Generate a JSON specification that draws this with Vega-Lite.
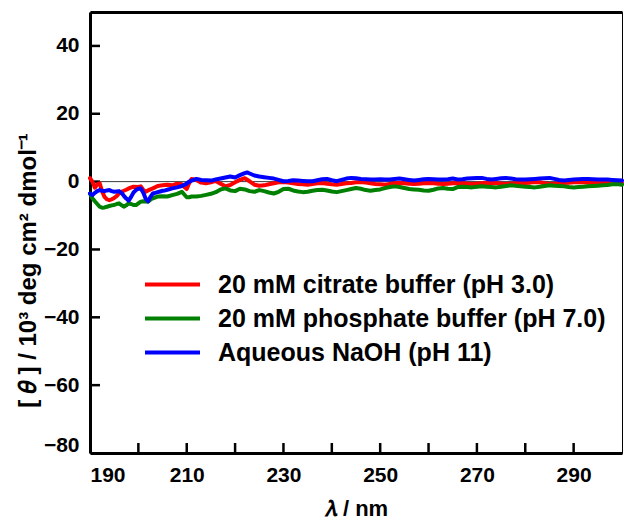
{
  "$schema": "https://vega.github.io/schema/vega-lite/v6.json",
  "width": 532,
  "height": 441,
  "autosize": "none",
  "padding": {"left": 90, "top": 12, "right": 2, "bottom": 67},
  "background": "white",
  "config": {
    "view": {"stroke": "black", "strokeWidth": 1},
    "axis": {
      "grid": false,
      "labelFont": "Liberation Sans",
      "labelFontWeight": "bold",
      "labelFontSize": 21,
      "labelColor": "black",
      "titleFont": "Liberation Sans",
      "titleFontWeight": "bold",
      "titleColor": "black",
      "domainColor": "black",
      "domainWidth": 3,
      "tickColor": "black",
      "tickWidth": 2
    }
  },
  "datasets": {
    "cd": [
      {"s":"a","w":190,"v":1.0},{"s":"a","w":190.5,"v":0},{"s":"a","w":191,"v":-1.8},{"s":"a","w":191.5,"v":-0.8},{"s":"a","w":192,"v":-0.5},{"s":"a","w":192.5,"v":-2.8},{"s":"a","w":193,"v":-4.5},{"s":"a","w":193.5,"v":-5.2},{"s":"a","w":194,"v":-5.5},{"s":"a","w":194.5,"v":-5.2},{"s":"a","w":195,"v":-4.8},{"s":"a","w":195.5,"v":-4.3},{"s":"a","w":196,"v":-3.5},{"s":"a","w":196.5,"v":-3.0},{"s":"a","w":197,"v":-2.7},{"s":"a","w":197.5,"v":-2.4},{"s":"a","w":198,"v":-2.0},{"s":"a","w":199,"v":-1.5},{"s":"a","w":200,"v":-1.6},{"s":"a","w":200.5,"v":-1.4},{"s":"a","w":201,"v":-2.4},{"s":"a","w":201.5,"v":-3.0},{"s":"a","w":202,"v":-2.6},{"s":"a","w":203,"v":-2.0},{"s":"a","w":204,"v":-1.3},{"s":"a","w":205,"v":-1.1},{"s":"a","w":206,"v":-0.9},{"s":"a","w":207,"v":-1.1},{"s":"a","w":208,"v":-0.6},{"s":"a","w":209,"v":-0.8},{"s":"a","w":209.5,"v":-1.6},{"s":"a","w":210,"v":-2.2},{"s":"a","w":210.5,"v":-0.5},{"s":"a","w":211,"v":0.8},{"s":"a","w":212,"v":0.5},{"s":"a","w":213,"v":-0.3},{"s":"a","w":214,"v":-0.5},{"s":"a","w":215,"v":-0.2},{"s":"a","w":216,"v":0.2},{"s":"a","w":217,"v":-0.6},{"s":"a","w":218,"v":-1.4},{"s":"a","w":219,"v":-1.0},{"s":"a","w":220,"v":-0.2},{"s":"a","w":221,"v":0.5},{"s":"a","w":222,"v":1.0},{"s":"a","w":223,"v":0.1},{"s":"a","w":224,"v":-0.9},{"s":"a","w":225,"v":-1.2},{"s":"a","w":226,"v":-1.1},{"s":"a","w":227,"v":-0.8},{"s":"a","w":228,"v":-0.5},{"s":"a","w":229,"v":-0.2},{"s":"a","w":230,"v":-0.1},{"s":"a","w":231,"v":-0.3},{"s":"a","w":232,"v":-0.5},{"s":"a","w":233,"v":-0.7},{"s":"a","w":234,"v":-0.8},{"s":"a","w":235,"v":-0.9},{"s":"a","w":236,"v":-0.7},{"s":"a","w":237,"v":-0.5},{"s":"a","w":238,"v":-0.4},{"s":"a","w":239,"v":-0.6},{"s":"a","w":240,"v":-0.8},{"s":"a","w":241,"v":-0.9},{"s":"a","w":242,"v":-0.7},{"s":"a","w":243,"v":-0.5},{"s":"a","w":244,"v":-0.4},{"s":"a","w":245,"v":-0.2},{"s":"a","w":246,"v":-0.1},{"s":"a","w":247,"v":-0.3},{"s":"a","w":248,"v":-0.5},{"s":"a","w":249,"v":-0.7},{"s":"a","w":250,"v":-0.8},{"s":"a","w":251,"v":-0.9},{"s":"a","w":252,"v":-0.7},{"s":"a","w":253,"v":-0.5},{"s":"a","w":254,"v":-0.4},{"s":"a","w":255,"v":-0.5},{"s":"a","w":256,"v":-0.6},{"s":"a","w":257,"v":-0.7},{"s":"a","w":258,"v":-0.6},{"s":"a","w":259,"v":-0.5},{"s":"a","w":260,"v":-0.4},{"s":"a","w":261,"v":-0.5},{"s":"a","w":262,"v":-0.6},{"s":"a","w":263,"v":-0.7},{"s":"a","w":264,"v":-0.6},{"s":"a","w":265,"v":-0.5},{"s":"a","w":266,"v":-0.4},{"s":"a","w":267,"v":-0.5},{"s":"a","w":268,"v":-0.6},{"s":"a","w":269,"v":-0.7},{"s":"a","w":270,"v":-0.6},{"s":"a","w":271,"v":-0.5},{"s":"a","w":272,"v":-0.4},{"s":"a","w":273,"v":-0.4},{"s":"a","w":274,"v":-0.5},{"s":"a","w":275,"v":-0.6},{"s":"a","w":276,"v":-0.7},{"s":"a","w":277,"v":-0.6},{"s":"a","w":278,"v":-0.5},{"s":"a","w":279,"v":-0.4},{"s":"a","w":280,"v":-0.4},{"s":"a","w":281,"v":-0.3},{"s":"a","w":282,"v":-0.1},{"s":"a","w":283,"v":-0.2},{"s":"a","w":284,"v":-0.5},{"s":"a","w":285,"v":-0.7},{"s":"a","w":286,"v":-0.6},{"s":"a","w":287,"v":-0.5},{"s":"a","w":288,"v":-0.4},{"s":"a","w":289,"v":-0.3},{"s":"a","w":290,"v":-0.2},{"s":"a","w":291,"v":-0.1},{"s":"a","w":292,"v":-0.2},{"s":"a","w":293,"v":-0.3},{"s":"a","w":294,"v":-0.4},{"s":"a","w":295,"v":-0.4},{"s":"a","w":296,"v":-0.3},{"s":"a","w":297,"v":-0.2},{"s":"a","w":298,"v":-0.1},{"s":"a","w":299,"v":-0.3},{"s":"a","w":300,"v":-0.4},
      {"s":"b","w":190,"v":-3.5},{"s":"b","w":190.5,"v":-4.9},{"s":"b","w":191,"v":-5.8},{"s":"b","w":191.5,"v":-6.6},{"s":"b","w":192,"v":-7.4},{"s":"b","w":192.5,"v":-7.7},{"s":"b","w":193,"v":-7.6},{"s":"b","w":193.5,"v":-7.4},{"s":"b","w":194,"v":-7.2},{"s":"b","w":194.5,"v":-7.0},{"s":"b","w":195,"v":-6.9},{"s":"b","w":195.5,"v":-6.6},{"s":"b","w":196,"v":-6.4},{"s":"b","w":196.5,"v":-6.9},{"s":"b","w":197,"v":-7.4},{"s":"b","w":197.5,"v":-7.0},{"s":"b","w":198,"v":-6.4},{"s":"b","w":198.5,"v":-6.6},{"s":"b","w":199,"v":-6.9},{"s":"b","w":199.5,"v":-6.9},{"s":"b","w":200,"v":-6.4},{"s":"b","w":200.5,"v":-5.9},{"s":"b","w":201,"v":-5.8},{"s":"b","w":202,"v":-5.9},{"s":"b","w":202.5,"v":-5.3},{"s":"b","w":203,"v":-4.9},{"s":"b","w":204,"v":-4.4},{"s":"b","w":205,"v":-4.3},{"s":"b","w":206,"v":-4.4},{"s":"b","w":207,"v":-4.0},{"s":"b","w":208,"v":-3.6},{"s":"b","w":208.5,"v":-3.3},{"s":"b","w":209,"v":-3.0},{"s":"b","w":209.5,"v":-3.8},{"s":"b","w":210,"v":-4.6},{"s":"b","w":210.5,"v":-4.6},{"s":"b","w":211,"v":-4.4},{"s":"b","w":212,"v":-4.4},{"s":"b","w":213,"v":-4.2},{"s":"b","w":214,"v":-3.9},{"s":"b","w":215,"v":-3.6},{"s":"b","w":216,"v":-3.1},{"s":"b","w":217,"v":-2.3},{"s":"b","w":218,"v":-2.0},{"s":"b","w":219,"v":-2.6},{"s":"b","w":220,"v":-2.8},{"s":"b","w":221,"v":-2.1},{"s":"b","w":222,"v":-2.3},{"s":"b","w":223,"v":-2.8},{"s":"b","w":224,"v":-3.0},{"s":"b","w":225,"v":-2.5},{"s":"b","w":226,"v":-2.8},{"s":"b","w":227,"v":-3.2},{"s":"b","w":228,"v":-3.5},{"s":"b","w":229,"v":-3.0},{"s":"b","w":230,"v":-2.2},{"s":"b","w":231,"v":-2.1},{"s":"b","w":232,"v":-2.6},{"s":"b","w":233,"v":-2.9},{"s":"b","w":234,"v":-3.1},{"s":"b","w":235,"v":-3.0},{"s":"b","w":236,"v":-2.7},{"s":"b","w":237,"v":-2.5},{"s":"b","w":238,"v":-2.4},{"s":"b","w":239,"v":-2.6},{"s":"b","w":240,"v":-2.9},{"s":"b","w":241,"v":-3.1},{"s":"b","w":242,"v":-2.8},{"s":"b","w":243,"v":-2.5},{"s":"b","w":244,"v":-2.2},{"s":"b","w":245,"v":-1.9},{"s":"b","w":246,"v":-2.1},{"s":"b","w":247,"v":-2.5},{"s":"b","w":248,"v":-2.7},{"s":"b","w":249,"v":-2.5},{"s":"b","w":250,"v":-2.3},{"s":"b","w":251,"v":-1.9},{"s":"b","w":252,"v":-1.6},{"s":"b","w":253,"v":-1.4},{"s":"b","w":254,"v":-1.6},{"s":"b","w":255,"v":-1.9},{"s":"b","w":256,"v":-2.2},{"s":"b","w":257,"v":-2.3},{"s":"b","w":258,"v":-2.4},{"s":"b","w":259,"v":-2.6},{"s":"b","w":260,"v":-2.7},{"s":"b","w":261,"v":-2.4},{"s":"b","w":262,"v":-2.0},{"s":"b","w":263,"v":-1.9},{"s":"b","w":264,"v":-2.1},{"s":"b","w":265,"v":-2.2},{"s":"b","w":266,"v":-1.6},{"s":"b","w":267,"v":-1.5},{"s":"b","w":268,"v":-1.6},{"s":"b","w":269,"v":-1.7},{"s":"b","w":270,"v":-1.5},{"s":"b","w":271,"v":-1.4},{"s":"b","w":272,"v":-1.5},{"s":"b","w":273,"v":-1.6},{"s":"b","w":274,"v":-1.7},{"s":"b","w":275,"v":-1.5},{"s":"b","w":276,"v":-1.3},{"s":"b","w":277,"v":-1.1},{"s":"b","w":278,"v":-1.2},{"s":"b","w":279,"v":-1.4},{"s":"b","w":280,"v":-1.5},{"s":"b","w":281,"v":-1.6},{"s":"b","w":282,"v":-1.7},{"s":"b","w":283,"v":-1.5},{"s":"b","w":284,"v":-1.3},{"s":"b","w":285,"v":-1.1},{"s":"b","w":286,"v":-1.2},{"s":"b","w":287,"v":-1.3},{"s":"b","w":288,"v":-1.4},{"s":"b","w":289,"v":-1.6},{"s":"b","w":290,"v":-1.7},{"s":"b","w":291,"v":-1.6},{"s":"b","w":292,"v":-1.5},{"s":"b","w":293,"v":-1.4},{"s":"b","w":294,"v":-1.3},{"s":"b","w":295,"v":-1.2},{"s":"b","w":296,"v":-1.1},{"s":"b","w":297,"v":-1.0},{"s":"b","w":298,"v":-0.8},{"s":"b","w":299,"v":-0.7},{"s":"b","w":300,"v":-0.9},
      {"s":"c","w":190,"v":-3.5},{"s":"c","w":190.5,"v":-4.0},{"s":"c","w":191,"v":-3.3},{"s":"c","w":191.5,"v":-2.8},{"s":"c","w":192,"v":-2.5},{"s":"c","w":192.5,"v":-2.7},{"s":"c","w":193,"v":-2.8},{"s":"c","w":193.5,"v":-2.6},{"s":"c","w":194,"v":-2.5},{"s":"c","w":194.5,"v":-2.8},{"s":"c","w":195,"v":-3.0},{"s":"c","w":195.5,"v":-2.9},{"s":"c","w":196,"v":-2.8},{"s":"c","w":196.5,"v":-3.3},{"s":"c","w":197,"v":-4.2},{"s":"c","w":197.5,"v":-5.0},{"s":"c","w":198,"v":-5.6},{"s":"c","w":198.5,"v":-4.5},{"s":"c","w":199,"v":-3.2},{"s":"c","w":199.5,"v":-2.5},{"s":"c","w":200,"v":-2.1},{"s":"c","w":200.5,"v":-2.0},{"s":"c","w":201,"v":-3.2},{"s":"c","w":201.5,"v":-5.0},{"s":"c","w":202,"v":-5.8},{"s":"c","w":202.5,"v":-4.5},{"s":"c","w":203,"v":-3.5},{"s":"c","w":203.5,"v":-3.3},{"s":"c","w":204,"v":-3.1},{"s":"c","w":204.5,"v":-2.9},{"s":"c","w":205,"v":-2.7},{"s":"c","w":205.5,"v":-2.6},{"s":"c","w":206,"v":-2.4},{"s":"c","w":207,"v":-2.0},{"s":"c","w":208,"v":-1.7},{"s":"c","w":209,"v":-1.3},{"s":"c","w":210,"v":-0.6},{"s":"c","w":210.5,"v":0},{"s":"c","w":211,"v":0.3},{"s":"c","w":212,"v":0.8},{"s":"c","w":213,"v":0.5},{"s":"c","w":214,"v":0.4},{"s":"c","w":215,"v":0.3},{"s":"c","w":216,"v":0.6},{"s":"c","w":217,"v":0.9},{"s":"c","w":218,"v":1.2},{"s":"c","w":219,"v":1.5},{"s":"c","w":220,"v":1.2},{"s":"c","w":221,"v":1.9},{"s":"c","w":222,"v":2.5},{"s":"c","w":222.5,"v":2.7},{"s":"c","w":223,"v":2.4},{"s":"c","w":224,"v":1.8},{"s":"c","w":225,"v":1.5},{"s":"c","w":226,"v":1.3},{"s":"c","w":227,"v":1.1},{"s":"c","w":228,"v":0.9},{"s":"c","w":229,"v":0.5},{"s":"c","w":230,"v":0.1},{"s":"c","w":231,"v":0.2},{"s":"c","w":232,"v":0.4},{"s":"c","w":233,"v":0.3},{"s":"c","w":234,"v":0.2},{"s":"c","w":235,"v":0.1},{"s":"c","w":236,"v":0.1},{"s":"c","w":237,"v":0.4},{"s":"c","w":238,"v":0.7},{"s":"c","w":239,"v":0.8},{"s":"c","w":240,"v":0.4},{"s":"c","w":241,"v":0.1},{"s":"c","w":242,"v":0.5},{"s":"c","w":243,"v":0.9},{"s":"c","w":244,"v":1.1},{"s":"c","w":245,"v":1.0},{"s":"c","w":246,"v":0.8},{"s":"c","w":247,"v":0.7},{"s":"c","w":248,"v":0.6},{"s":"c","w":249,"v":0.6},{"s":"c","w":250,"v":0.7},{"s":"c","w":251,"v":0.6},{"s":"c","w":252,"v":0.6},{"s":"c","w":253,"v":0.8},{"s":"c","w":254,"v":0.9},{"s":"c","w":255,"v":0.7},{"s":"c","w":256,"v":0.5},{"s":"c","w":257,"v":0.3},{"s":"c","w":258,"v":0.5},{"s":"c","w":259,"v":0.7},{"s":"c","w":260,"v":0.8},{"s":"c","w":261,"v":0.7},{"s":"c","w":262,"v":0.6},{"s":"c","w":263,"v":0.6},{"s":"c","w":264,"v":0.7},{"s":"c","w":265,"v":0.9},{"s":"c","w":266,"v":0.6},{"s":"c","w":267,"v":0.7},{"s":"c","w":268,"v":0.9},{"s":"c","w":269,"v":1.0},{"s":"c","w":270,"v":1.1},{"s":"c","w":271,"v":1.1},{"s":"c","w":272,"v":0.8},{"s":"c","w":273,"v":0.6},{"s":"c","w":274,"v":0.8},{"s":"c","w":275,"v":1.0},{"s":"c","w":276,"v":1.1},{"s":"c","w":277,"v":0.9},{"s":"c","w":278,"v":0.7},{"s":"c","w":279,"v":0.6},{"s":"c","w":280,"v":0.6},{"s":"c","w":281,"v":0.7},{"s":"c","w":282,"v":0.8},{"s":"c","w":283,"v":0.9},{"s":"c","w":284,"v":1.0},{"s":"c","w":285,"v":1.1},{"s":"c","w":286,"v":0.8},{"s":"c","w":287,"v":0.5},{"s":"c","w":288,"v":0.3},{"s":"c","w":289,"v":0.5},{"s":"c","w":290,"v":0.6},{"s":"c","w":291,"v":0.7},{"s":"c","w":292,"v":0.8},{"s":"c","w":293,"v":0.8},{"s":"c","w":294,"v":0.7},{"s":"c","w":295,"v":0.6},{"s":"c","w":296,"v":0.6},{"s":"c","w":297,"v":0.6},{"s":"c","w":298,"v":0.5},{"s":"c","w":299,"v":0.4},{"s":"c","w":300,"v":0.3}
    ]
  },
  "layer": [
    {
      "data": {"values": [{}]},
      "mark": {"type": "rule", "color": "#3a3a3a", "strokeWidth": 1},
      "encoding": {
        "x": {"datum": 190, "type": "quantitative", "axis": {"orient": "top", "labels": false, "ticks": false, "title": null}},
        "x2": {"datum": 300},
        "y": {"datum": 0, "type": "quantitative", "axis": null}
      }
    },
    {
      "data": {"values": [{"t": 200}, {"t": 210}, {"t": 220}, {"t": 230}, {"t": 240}, {"t": 250}, {"t": 260}, {"t": 270}, {"t": 280}, {"t": 290}]},
      "mark": {"type": "tick", "orient": "vertical", "size": 10, "thickness": 2.5, "color": "black", "opacity": 1, "yOffset": -5},
      "encoding": {
        "x": {"field": "t", "type": "quantitative", "axis": null},
        "y": {"datum": -80, "type": "quantitative", "axis": null}
      }
    },
    {
      "data": {"values": [{"u": -60}, {"u": -40}, {"u": -20}, {"u": 0}, {"u": 20}, {"u": 40}]},
      "mark": {"type": "tick", "orient": "horizontal", "size": 10, "thickness": 2.5, "color": "black", "opacity": 1, "xOffset": 5},
      "encoding": {
        "y": {"field": "u", "type": "quantitative", "axis": null},
        "x": {"datum": 190, "type": "quantitative", "axis": null}
      }
    },
    {
      "data": {"name": "cd"},
      "mark": {"type": "line", "strokeWidth": 4, "strokeJoin": "round", "strokeCap": "round"},
      "encoding": {
        "x": {
          "field": "w", "type": "quantitative",
          "scale": {"domain": [190, 300], "nice": false, "zero": false},
          "axis": {
            "orient": "bottom",
            "values": [190, 210, 230, 250, 270, 290],
            "ticks": false,
            "labelFontWeight": "bold",
            "labelFontSize": 21,
            "labelPadding": 11,
            "labelFlush": true,
            "title": "𝜆 / nm",
            "titleFontSize": 22,
            "titlePadding": 13,
            "encode": {"labels": {"update": {"fontWeight": {"value": "bold"}}}}
          }
        },
        "y": {
          "field": "v", "type": "quantitative",
          "scale": {"domain": [-80, 50], "nice": false, "zero": false},
          "axis": {
            "orient": "left",
            "values": [-80, -60, -40, -20, 0, 20, 40],
            "ticks": false,
            "labelFontWeight": "bold",
            "labelFontSize": 21,
            "labelPadding": 11,
            "labelFlush": true,
            "labelFlushOffset": 2,
            "title": "[ 𝜃 ] / 10³ deg cm² dmol⁻¹",
            "titleFontSize": 24,
            "titlePadding": 3,
            "titleY": 258,
            "encode": {"labels": {"update": {"fontWeight": {"value": "bold"}}}}
          }
        },
        "color": {
          "field": "s", "type": "nominal",
          "scale": {"domain": ["a", "b", "c"], "range": ["#ff0000", "#008000", "#0000ff"]},
          "legend": {
            "orient": "none",
            "legendX": 70,
            "legendY": 260,
            "padding": 0,
            "title": null,
            "symbolType": "M-5,0L5,0",
            "symbolSize": 121,
            "symbolStrokeWidth": 4,
            "labelFont": "Liberation Sans",
            "labelFontWeight": "bold",
            "labelFontSize": 25,
            "labelColor": "black",
            "labelOffset": 33,
            "labelLimit": 600,
            "rowPadding": 8,
            "labelExpr": "datum.label == 'a' ? '20 mM citrate buffer (pH 3.0)' : datum.label == 'b' ? '20 mM phosphate buffer (pH 7.0)' : 'Aqueous NaOH (pH 11)'"
          }
        }
      }
    }
  ],
  "resolve": {"axis": {"x": "independent", "y": "independent"}}
}
